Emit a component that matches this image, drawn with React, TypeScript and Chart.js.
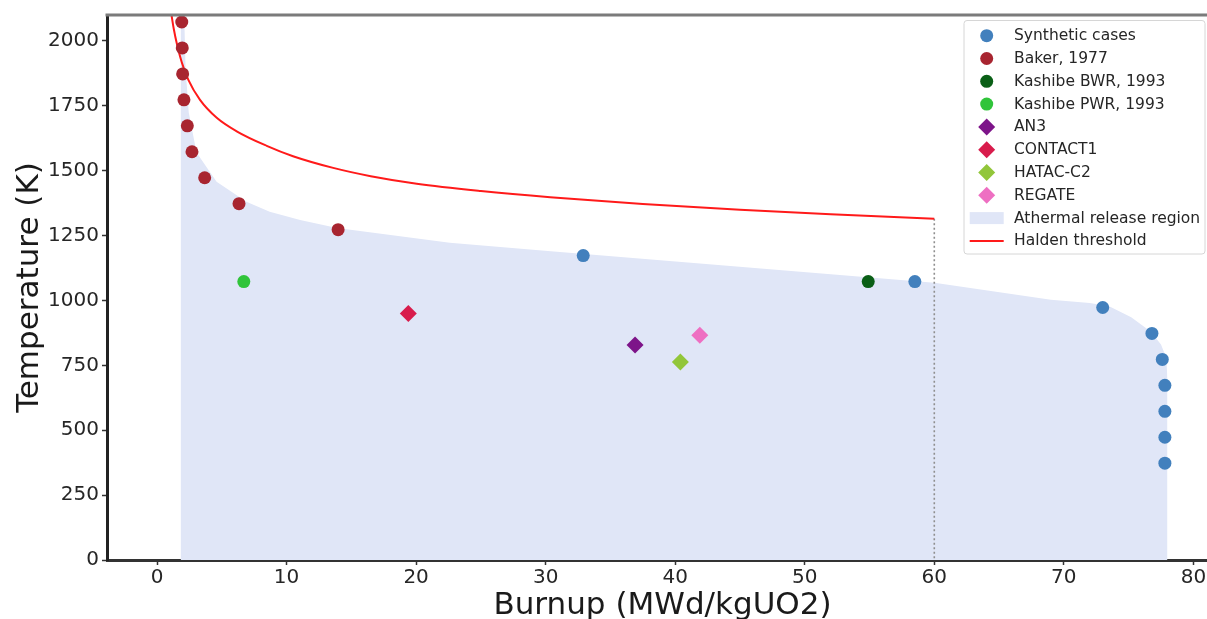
import React, { useEffect, useRef } from "react";
import { Chart, registerables } from "chart.js";

Chart.register(...registerables);

// ---------- data ----------
const xTicks = [0, 10, 20, 30, 40, 50, 60, 70, 80];
const yTicks = [0, 250, 500, 750, 1000, 1250, 1500, 1750, 2000];

const syntheticBurnup = [32.9, 58.5, 73.0, 76.8, 77.6, 77.8, 77.8, 77.8, 77.8];
const syntheticTemp = [1173, 1073, 973, 873, 773, 673, 573, 473, 373];

const bakerBurnup = [1.91, 1.95, 1.98, 2.08, 2.34, 2.7, 3.68, 6.33, 13.98];
const bakerTemp = [2073, 1973, 1873, 1773, 1673, 1573, 1473, 1373, 1273];

const kashibeBwrBurnup = [54.9];
const kashibeBwrTemp = [1073];

const kashibePwrBurnup = [6.7];
const kashibePwrTemp = [1073];

const an3Burnup = [36.9];
const an3Temp = [828];

const contact1Burnup = [19.4];
const contact1Temp = [950];

const hatacBurnup = [40.4];
const hatacTemp = [763];

const regateBurnup = [41.9];
const regateTemp = [866];

const haldenBurnup = [0.95, 1.13, 1.3, 1.52, 1.91, 2.42, 3.32, 4.61, 6.15, 8.47, 10.5, 13.6, 16.5, 20.05, 25, 30.35, 37.5, 45, 52, 60];
const haldenTemp = [2150, 2096, 2045, 1992, 1918, 1850, 1773, 1704, 1652, 1596, 1556, 1511, 1479, 1450, 1422, 1398, 1372, 1350, 1332, 1315];

const limitBurnup = [60, 60];
const limitTemp = [1315, 0];

const athermalBurnup = [1.82, 2.1, 2.2, 2.45, 3.05, 4.6, 6.9, 8.7, 11.05, 13.9, 22.6, 30.4, 60, 69, 72, 73.5, 75.2, 76.7, 77.5, 77.9, 78.0, 78.0];
const athermalTemp = [2150, 2100, 1900, 1724, 1570, 1457, 1380, 1342, 1310, 1279, 1222, 1190, 1068, 1003, 990, 978, 935, 880, 830, 780, 700, 0];

// ---------- styles ----------
const FONT = "'DejaVu Sans', 'Liberation Sans', sans-serif";
const FILL_COLOR = "#e0e6f7";
const HALDEN_COLOR = "#ff1a1a";

const pts = (xs: number[], ys: number[]) => xs.map((x, i) => ({ x, y: ys[i] }));

type LegendEntry = { label: string; kind: "circle" | "diamond" | "patch" | "line"; color: string };

const legendEntries: LegendEntry[] = [
  { label: "Synthetic cases", kind: "circle", color: "#4280bd" },
  { label: "Baker, 1977", kind: "circle", color: "#a82530" },
  { label: "Kashibe BWR, 1993", kind: "circle", color: "#0a5f16" },
  { label: "Kashibe PWR, 1993", kind: "circle", color: "#30c43a" },
  { label: "AN3", kind: "diamond", color: "#7d1489" },
  { label: "CONTACT1", kind: "diamond", color: "#d81c4c" },
  { label: "HATAC-C2", kind: "diamond", color: "#92c63a" },
  { label: "REGATE", kind: "diamond", color: "#ee6fc2" },
  { label: "Athermal release region", kind: "patch", color: FILL_COLOR },
  { label: "Halden threshold", kind: "line", color: HALDEN_COLOR },
];

const CIRCLE_R = 6.5;
const DIAMOND_R = 8.5;

function drawDiamond(ctx: CanvasRenderingContext2D, x: number, y: number, r: number) {
  ctx.beginPath();
  ctx.moveTo(x, y - r);
  ctx.lineTo(x + r, y);
  ctx.lineTo(x, y + r);
  ctx.lineTo(x - r, y);
  ctx.closePath();
  ctx.fill();
}

const overlayPlugin = {
  id: "overlay",
  afterDraw(chart: any) {
    const { ctx, chartArea } = chart;
    ctx.save();
    // top spine
    ctx.strokeStyle = "#7b7b7b";
    ctx.lineWidth = 3;
    ctx.beginPath();
    ctx.moveTo(chartArea.left - 1.5, chartArea.top);
    ctx.lineTo(chartArea.right, chartArea.top);
    ctx.stroke();

    // legend box
    const bx = 964;
    const by = 20.5;
    const bw = 241;
    const bh = 233.5;
    ctx.fillStyle = "rgba(255,255,255,0.85)";
    ctx.strokeStyle = "#d6d6d6";
    ctx.lineWidth = 1;
    ctx.beginPath();
    (ctx as any).roundRect(bx, by, bw, bh, 3);
    ctx.fill();
    ctx.stroke();

    const mx = bx + 22.7;
    const tx = bx + 50;
    ctx.font = `15.5px ${FONT}`;
    ctx.textBaseline = "middle";
    ctx.textAlign = "left";
    legendEntries.forEach((e, i) => {
      const cy = by + 15.2 + i * 22.8;
      ctx.fillStyle = e.color;
      if (e.kind === "circle") {
        ctx.beginPath();
        ctx.arc(mx, cy, CIRCLE_R, 0, Math.PI * 2);
        ctx.fill();
      } else if (e.kind === "diamond") {
        drawDiamond(ctx, mx, cy, DIAMOND_R);
      } else if (e.kind === "patch") {
        ctx.fillRect(mx - 17, cy - 6, 34, 12);
      } else {
        ctx.strokeStyle = e.color;
        ctx.lineWidth = 2;
        ctx.beginPath();
        ctx.moveTo(mx - 17, cy);
        ctx.lineTo(mx + 17, cy);
        ctx.stroke();
      }
      ctx.fillStyle = "#262626";
      ctx.fillText(e.label, tx, cy + 0.5);
    });
    ctx.restore();
  },
};

const CANVAS_W = 1218;
const CANVAS_H = 640;
const CHART_BOTTOM = 560;

export default function App() {
  const canvasRef = useRef<HTMLCanvasElement | null>(null);

  useEffect(() => {
    const canvas = canvasRef.current;
    if (!canvas) return;

    const scatter = (label: string, xs: number[], ys: number[], color: string, style: string, r: number) => ({
      type: "scatter" as const,
      label,
      data: pts(xs, ys),
      backgroundColor: color,
      borderWidth: 0,
      pointStyle: style,
      pointRadius: r,
      pointHoverRadius: r,
      order: 1,
    });

    const chart = new Chart(canvas, {
      type: "scatter",
      data: {
        datasets: [
          scatter("Synthetic cases", syntheticBurnup, syntheticTemp, legendEntries[0].color, "circle", CIRCLE_R),
          scatter("Baker, 1977", bakerBurnup, bakerTemp, legendEntries[1].color, "circle", CIRCLE_R),
          scatter("Kashibe BWR, 1993", kashibeBwrBurnup, kashibeBwrTemp, legendEntries[2].color, "circle", CIRCLE_R),
          scatter("Kashibe PWR, 1993", kashibePwrBurnup, kashibePwrTemp, legendEntries[3].color, "circle", CIRCLE_R),
          scatter("AN3", an3Burnup, an3Temp, legendEntries[4].color, "rectRot", DIAMOND_R),
          scatter("CONTACT1", contact1Burnup, contact1Temp, legendEntries[5].color, "rectRot", DIAMOND_R),
          scatter("HATAC-C2", hatacBurnup, hatacTemp, legendEntries[6].color, "rectRot", DIAMOND_R),
          scatter("REGATE", regateBurnup, regateTemp, legendEntries[7].color, "rectRot", DIAMOND_R),
          {
            type: "line",
            label: "Athermal release region",
            data: pts(athermalBurnup, athermalTemp),
            backgroundColor: FILL_COLOR,
            borderColor: "rgba(0,0,0,0)",
            borderWidth: 0,
            pointRadius: 0,
            fill: "origin",
            tension: 0,
            order: 10,
          } as any,
          {
            type: "line",
            label: "Halden threshold",
            data: pts(haldenBurnup, haldenTemp),
            borderColor: HALDEN_COLOR,
            borderWidth: 2,
            pointRadius: 0,
            fill: false,
            cubicInterpolationMode: "monotone",
            order: 5,
          } as any,
          {
            type: "line",
            label: "limit",
            data: pts(limitBurnup, limitTemp),
            borderColor: "#8f8f8f",
            borderWidth: 1.6,
            borderDash: [2, 2.5],
            pointRadius: 0,
            fill: false,
            order: 6,
          } as any,
        ],
      },
      options: {
        animation: false,
        responsive: false,
        devicePixelRatio: 1,
        events: [],
        layout: { autoPadding: false, padding: { top: 13, left: 0, right: 0, bottom: 0 } },
        plugins: {
          legend: { display: false },
          tooltip: { enabled: false },
        },
        scales: {
          x: {
            type: "linear",
            position: "bottom",
            min: -3.86,
            max: 81.9,
            afterBuildTicks: (s: any) => {
              s.ticks = xTicks.map((v) => ({ value: v }));
            },
            afterFit: (s: any) => {
              s.height = CANVAS_H - CHART_BOTTOM;
            },
            grid: { drawOnChartArea: false, drawTicks: true, tickLength: 5, tickWidth: 1.5, tickColor: "#333" },
            border: { display: true, color: "#333", width: 3 },
            ticks: {
              font: { family: FONT, size: 20 },
              color: "#262626",
              padding: 1,
              maxRotation: 0,
              autoSkip: false,
              callback: (v: any) => String(v),
            },
            title: {
              display: true,
              text: "Burnup (MWd/kgUO2)",
              font: { family: FONT, size: 31 },
              color: "#1a1a1a",
              padding: { top: 0, bottom: 15 },
            },
          },
          y: {
            type: "linear",
            min: 0,
            max: 2100,
            afterBuildTicks: (s: any) => {
              s.ticks = yTicks.map((v) => ({ value: v }));
            },
            afterFit: (s: any) => {
              s.width = 107;
            },
            grid: { drawOnChartArea: false, drawTicks: true, tickLength: 5, tickWidth: 1.5, tickColor: "#333" },
            border: { display: true, color: "#222", width: 3 },
            ticks: {
              font: { family: FONT, size: 20 },
              color: "#262626",
              padding: 3,
              autoSkip: false,
              callback: (v: any) => String(v),
            },
            title: {
              display: true,
              text: "Temperature (K)",
              font: { family: FONT, size: 31 },
              color: "#1a1a1a",
              padding: { top: 11, bottom: 0 },
            },
          },
        },
      } as any,
      plugins: [overlayPlugin],
    });

    return () => {
      chart.destroy();
    };
  }, []);

  return (
    <div
      style={{
        position: "absolute",
        left: 0,
        top: 0,
        width: 1207,
        height: 619,
        overflow: "hidden",
        background: "#ffffff",
      }}
    >
      <canvas
        ref={canvasRef}
        width={CANVAS_W}
        height={CANVAS_H}
        style={{ display: "block", width: CANVAS_W, height: CANVAS_H }}
      />
    </div>
  );
}
